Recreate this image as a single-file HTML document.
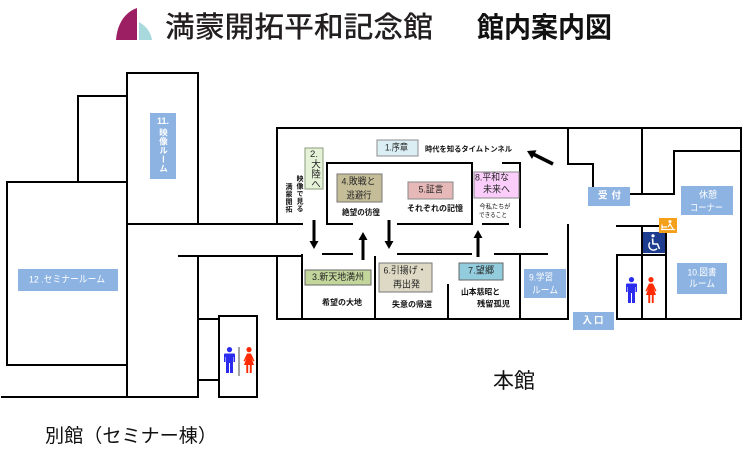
<!DOCTYPE html>
<html><head><meta charset="utf-8">
<style>
html,body{margin:0;padding:0;background:#fff;}
body{width:752px;height:451px;overflow:hidden;position:relative;font-family:"Liberation Sans","Noto Sans CJK JP",sans-serif;}
svg{position:absolute;left:0;top:0;font-family:"Liberation Sans","Noto Sans CJK JP",sans-serif;}
.v{position:absolute;writing-mode:vertical-rl;white-space:nowrap;font-family:"Liberation Sans","Noto Sans CJK JP",sans-serif;}
</style></head><body>
<svg width="752" height="451" viewBox="0 0 752 451">
<!-- logo -->
<path d="M116,40 C117,24 125,12 137,8 V40 Z" fill="#9c1f63"/>
<path d="M139,22 C146,26 151,32 152,40 H139 Z" fill="#a8dadd"/>
<text x="165" y="37" font-size="29" textLength="268" lengthAdjust="spacingAndGlyphs" fill="#231f20" font-weight="500">満蒙開拓平和記念館</text>
<text x="477" y="37" font-size="28" textLength="135" lengthAdjust="spacingAndGlyphs" fill="#111" font-weight="bold">館内案内図</text>

<g stroke="#000" stroke-width="2" fill="none" stroke-linecap="square">
<!-- annex -->
<path d="M127,397 V73 H198 V224"/>
<path d="M78,182 V96 H127"/>
<path d="M7,182 H127"/>
<path d="M7,182 V365 H127"/>
<path d="M2,397 H198"/>
<path d="M127,224 H302"/>
<path d="M179,256 H302"/>
<path d="M198,256 V397"/>
<path d="M198,319 H219"/>
<path d="M198,380 H219"/>
<rect x="219" y="316" width="38" height="81"/>
<!-- main building -->
<path d="M277,224 V128 H741 V319 H617"/>
<path d="M568,319 H277 V256"/>
<path d="M302,255 V319"/>
<path d="M352,224 H327 V163 H472 V224 H398"/>
<path d="M483,224 H508"/>
<path d="M503,163 H520 V227"/>
<path d="M323,254 H352"/>
<path d="M398,254 H471"/>
<path d="M495,254 H547"/>
<path d="M375,257 V319"/>
<path d="M448,285 V319"/>
<path d="M520,254 V319"/>
<path d="M568,225 V319"/>
<path d="M568,128 V164 H593 V187"/>
<path d="M642,128 V194"/>
<path d="M630,194 H674 V151 H741"/>
<path d="M617,319 V255 H666"/>
<path d="M617,226 H666"/>
<path d="M642,226 V319"/>
<path d="M666,226 V319"/>
</g>
<line x1="239" y1="347" x2="239" y2="376" stroke="#666" stroke-width="1.2"/>

<!-- arrows -->
<g fill="#000">
<rect x="312.5" y="220" width="3" height="22"/><polygon points="309.5,241 318.5,241 314,249"/>
<rect x="361.5" y="239" width="3" height="21"/><polygon points="363,232 358.5,240 367.5,240"/>
<rect x="387.5" y="220" width="3" height="22"/><polygon points="384.5,241 393.5,241 389,249"/>
<rect x="476.5" y="237" width="3" height="20"/><polygon points="478,230 473.5,238 482.5,238"/>
<polygon points="527,151 536.5,150.3 532,159"/>
</g>
<line x1="533" y1="154" x2="553" y2="164" stroke="#000" stroke-width="3.5"/>

<!-- colored exhibit boxes -->
<g stroke-width="1">
<rect x="377" y="140" width="41" height="16" fill="#dbeef4" stroke="#8c8c8c"/>
<rect x="305" y="148" width="18" height="41" fill="#e6f2d8" stroke="#8a9a7a"/>
<rect x="337" y="174" width="45" height="28" fill="#c4bd97" stroke="#777"/>
<rect x="408" y="182" width="45" height="17" fill="#e6b9b8" stroke="#888"/>
<rect x="474" y="172" width="45" height="26" fill="#fbcdfa" stroke="#888"/>
<rect x="305" y="270" width="66" height="15" fill="#c3d69b" stroke="#666"/>
<rect x="379" y="263" width="53" height="29" fill="#ddd9c4" stroke="#777"/>
<rect x="459" y="263" width="44" height="17" fill="#93cddd" stroke="#666"/>
</g>
<!-- blue boxes -->
<g fill="#8db3e2">
<rect x="524" y="269" width="42" height="29"/>
<rect x="588" y="187" width="42" height="19"/>
<rect x="681" y="186" width="52" height="29"/>
<rect x="677" y="263" width="50" height="31"/>
<rect x="573" y="312" width="41" height="18"/>
<rect x="150" y="113" width="26" height="66"/>
<rect x="18" y="269" width="100" height="22"/>
</g>

<!-- text in boxes -->
<g font-size="9.5" fill="#262626" text-anchor="middle" dominant-baseline="central">
<text x="396.5" y="148" textLength="23" lengthAdjust="spacingAndGlyphs">1.序章</text>
<text x="314" y="154.5">2.</text>
<text x="358.5" y="182" textLength="34" lengthAdjust="spacingAndGlyphs">4.敗戦と</text>
<text x="359" y="196" textLength="25" lengthAdjust="spacingAndGlyphs">逃避行</text>
<text x="431" y="190" textLength="25" lengthAdjust="spacingAndGlyphs">5.証言</text>
<text x="492" y="178" textLength="34" lengthAdjust="spacingAndGlyphs">8.平和な</text>
<text x="496.5" y="190" textLength="27" lengthAdjust="spacingAndGlyphs">未来へ</text>
<text x="338" y="277.5" textLength="52" lengthAdjust="spacingAndGlyphs">3.新天地満州</text>
<text x="405" y="271" textLength="43" lengthAdjust="spacingAndGlyphs">6.引揚げ・</text>
<text x="406.5" y="285" textLength="27" lengthAdjust="spacingAndGlyphs">再出発</text>
<text x="481" y="271" textLength="26" lengthAdjust="spacingAndGlyphs">7.望郷</text>
</g>
<g font-size="9.5" fill="#fff" text-anchor="middle" dominant-baseline="central">
<text x="541" y="278" textLength="24" lengthAdjust="spacingAndGlyphs">9.学習</text>
<text x="545" y="291" textLength="26" lengthAdjust="spacingAndGlyphs">ルーム</text>
<text x="609.5" y="196" textLength="23" lengthAdjust="spacing" font-weight="bold">受 付</text>
<text x="708" y="195.5" textLength="18" lengthAdjust="spacingAndGlyphs">休憩</text>
<text x="706.5" y="208.5" textLength="33" lengthAdjust="spacingAndGlyphs">コーナー</text>
<text x="702" y="273" textLength="29" lengthAdjust="spacingAndGlyphs">10.図書</text>
<text x="702" y="284.5" textLength="26" lengthAdjust="spacingAndGlyphs">ルーム</text>
<text x="593" y="321" textLength="21" lengthAdjust="spacing" font-weight="bold">入 口</text>
<text x="163" y="121" font-weight="bold" font-size="9">11.</text>
<text x="67" y="280" textLength="76" lengthAdjust="spacingAndGlyphs">12 .セミナールーム</text>
</g>

<!-- captions -->
<g font-size="8" fill="#111" font-weight="bold" text-anchor="middle" dominant-baseline="central">
<text x="468.5" y="149" font-size="7.5" textLength="87" lengthAdjust="spacingAndGlyphs">時代を知るタイムトンネル</text>
<text x="361" y="212.5" textLength="38" lengthAdjust="spacingAndGlyphs">絶望の彷徨</text>
<text x="435" y="208.5" textLength="56" lengthAdjust="spacingAndGlyphs">それぞれの記憶</text>
<text x="495" y="207" font-size="6.3" font-weight="normal" textLength="31" lengthAdjust="spacingAndGlyphs">今私たちが</text>
<text x="493" y="215.5" font-size="6.3" font-weight="normal" textLength="28" lengthAdjust="spacingAndGlyphs">できること</text>
<text x="342" y="302.5" textLength="40" lengthAdjust="spacingAndGlyphs">希望の大地</text>
<text x="412" y="304.5" textLength="40" lengthAdjust="spacingAndGlyphs">失意の帰還</text>
<text x="480.5" y="292" textLength="39" lengthAdjust="spacingAndGlyphs">山本慈昭と</text>
<text x="493.5" y="304" textLength="33" lengthAdjust="spacingAndGlyphs">残留孤児</text>
</g>

<!-- big labels -->
<text x="493" y="388" font-size="21" fill="#111">本館</text>
<text x="45" y="442" font-size="19" fill="#111" textLength="172" lengthAdjust="spacingAndGlyphs">別館（セミナー棟）</text>

<!-- toilets -->
<g fill="#2b2bf0">
<g transform="translate(626,277)"><circle cx="5.5" cy="2.6" r="2.6"/><path d="M1,6.5 H10 Q11,6.5 11,7.5 V15 H9.5 V10 H9 V26 H6 V16 H5 V26 H2 V10 H1.5 V15 H0 V7.5 Q0,6.5 1,6.5Z"/></g>
<g transform="translate(224,347)"><circle cx="5.5" cy="2.6" r="2.6"/><path d="M1,6.5 H10 Q11,6.5 11,7.5 V15 H9.5 V10 H9 V26 H6 V16 H5 V26 H2 V10 H1.5 V15 H0 V7.5 Q0,6.5 1,6.5Z"/></g>
</g>
<g fill="#ff2a00">
<g transform="translate(645.5,277)"><circle cx="5.5" cy="2.6" r="2.6"/><path d="M3.5,6.5 H7.5 L11,14 L9.8,14.5 L8,11 L10.5,18 H8.2 V26 H6.3 V18 H4.7 V26 H2.8 V18 H0.5 L3,11 L1.2,14.5 L0,14 Z"/></g>
<g transform="translate(243.5,347)"><circle cx="5.5" cy="2.6" r="2.6"/><path d="M3.5,6.5 H7.5 L11,14 L9.8,14.5 L8,11 L10.5,18 H8.2 V26 H6.3 V18 H4.7 V26 H2.8 V18 H0.5 L3,11 L1.2,14.5 L0,14 Z"/></g>
</g>

<!-- wheelchair -->
<rect x="643" y="232" width="22" height="21" fill="#1d3c8f"/>
<circle cx="653" cy="235.8" r="1.6" fill="#fff"/>
<path d="M652.5,238.5 L653,244 H657.5 L659.5,249" stroke="#fff" stroke-width="1.6" fill="none"/>
<path d="M650,242.5 A4.5,4.5 0 1 0 657,248.5" stroke="#fff" stroke-width="1.4" fill="none"/>
<!-- baby room -->
<rect x="659" y="218" width="18" height="15" fill="#f5a01a"/>
<g stroke="#fff" stroke-width="1.2" fill="none">
<path d="M661,229.5 H675"/>
<path d="M662,229.5 V224.5 M662,227 H667"/>
<path d="M668,227 L670,224 L673,229"/>
</g>
<circle cx="670" cy="221.5" r="1.5" fill="#fff"/>
</svg>

<!-- vertical texts -->
<div class="v" style="left:158.5px;top:128px;font-size:8.5px;line-height:9px;width:9px;letter-spacing:0.5px;color:#fff;font-weight:bold;">映像ルーム</div>
<div class="v" style="left:309px;top:159px;font-size:9.5px;line-height:10px;width:10px;letter-spacing:0.5px;color:#262626;">大陸へ</div>
<div class="v" style="left:295px;top:175px;font-size:7px;line-height:8px;width:8px;letter-spacing:0.4px;color:#111;font-weight:bold;">映像で見る</div>
<div class="v" style="left:284px;top:183px;font-size:7px;line-height:8px;width:8px;letter-spacing:0.4px;color:#111;font-weight:bold;">満蒙開拓</div>
</body></html>
